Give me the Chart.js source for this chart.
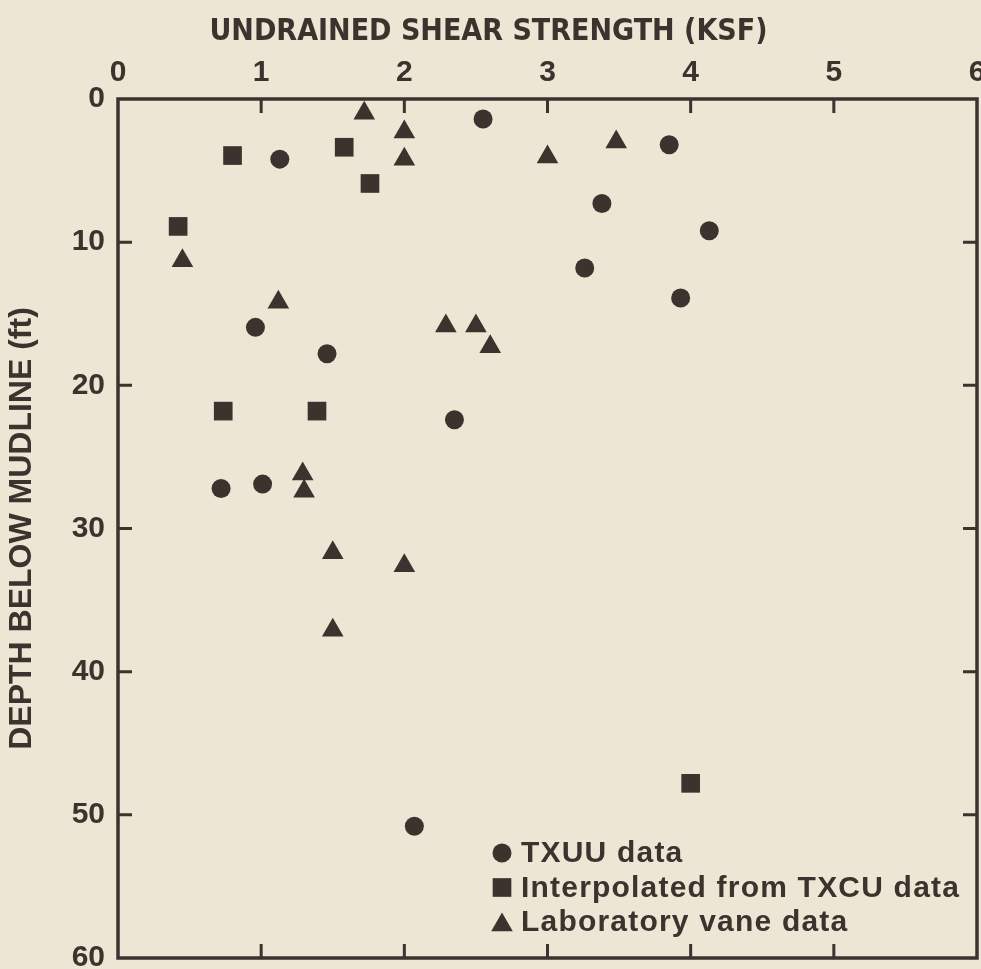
<!DOCTYPE html>
<html>
<head>
<meta charset="utf-8">
<title>Undrained shear strength vs depth</title>
<script src="https://cdn.jsdelivr.net/npm/chart.js"></script>
<style>
  html, body { margin: 0; padding: 0; background: #ece7d5; }
  canvas { display: block; }
</style>
</head>
<body>
<canvas id="strength-chart" width="981" height="969"></canvas>
<script>
// TXUU data: strength (ksf) and depth below mudline (ft)
var txuuStrength = [2.55, 1.13, 3.85, 3.38, 4.13, 3.26, 3.93, 0.96, 1.46, 2.35, 1.01, 0.72, 2.07];
var txuuDepth    = [1.4,  4.2,  3.2,  7.3,  9.2,  11.8, 13.9, 15.95, 17.8, 22.4, 26.9, 27.2, 50.8];

// interpolated from TXCU data
var txcuStrength = [0.80, 1.58, 1.76, 0.42, 0.735, 1.39, 4.0];
var txcuDepth    = [3.95, 3.37, 5.9,  8.9,  21.8,  21.8, 47.8];

// laboratory vane data
var vaneStrength = [1.72, 2.0, 2.0, 3.0,  3.48, 0.45, 1.12, 2.29,  2.50,  2.60, 1.29, 1.30, 1.50, 2.00, 1.50];
var vaneDepth    = [1.0,  2.3, 4.2, 4.05, 3.0,  11.3, 14.2, 15.85, 15.85, 17.3, 26.2, 27.4, 31.7, 32.6, 37.1];

var xTicks = [0, 1, 2, 3, 4, 5, 6];
var yTicks = [0, 10, 20, 30, 40, 50, 60];

var seriesNames = ['TXUU data', 'Interpolated from TXCU data', 'Laboratory vane data'];

var ink = '#3a332e';
var paper = '#ece7d5';
var fontFamily = '"Liberation Sans", Arial, sans-serif';

function toPoints(xs, ys) {
    return xs.map(function(x, i) { return { x: x, y: ys[i] }; });
}

var pageBackground = {
    id: 'pageBackground',
    beforeDraw: function(chart) {
        var ctx = chart.ctx;
        ctx.save();
        ctx.fillStyle = paper;
        ctx.fillRect(0, 0, chart.width, chart.height);
        ctx.restore();
    }
};

// box round the plot with ticks pointing inwards on all four sides
var frame = {
    id: 'frame',
    beforeDatasetsDraw: function(chart) {
        var ctx = chart.ctx;
        var a = chart.chartArea;
        var xs = chart.scales.x, ys = chart.scales.y;
        var len = 14;
        ctx.save();
        ctx.strokeStyle = ink;
        ctx.lineWidth = 3.5;
        ctx.strokeRect(a.left, a.top, a.right - a.left, a.bottom - a.top);
        ctx.lineWidth = 3;
        ctx.beginPath();
        xTicks.slice(1, -1).forEach(function(v) {
            var px = xs.getPixelForValue(v);
            ctx.moveTo(px, a.top); ctx.lineTo(px, a.top + len);
            ctx.moveTo(px, a.bottom); ctx.lineTo(px, a.bottom - len);
        });
        yTicks.slice(1, -1).forEach(function(v) {
            var py = ys.getPixelForValue(v);
            ctx.moveTo(a.left, py); ctx.lineTo(a.left + len, py);
            ctx.moveTo(a.right, py); ctx.lineTo(a.right - len, py);
        });
        ctx.stroke();
        ctx.restore();
    }
};

// legend sits inside the plot, lower right
var boxLegend = {
    id: 'boxLegend',
    afterDraw: function(chart) {
        var ctx = chart.ctx;
        var x0 = 502, y0 = 853, step = 34.5;
        ctx.save();
        ctx.font = 'bold 30px ' + fontFamily;
        ctx.letterSpacing = '1.2px';
        ctx.textBaseline = 'middle';
        ctx.textAlign = 'left';
        chart.data.datasets.forEach(function(ds, i) {
            var y = y0 + i * step;
            ctx.fillStyle = ink;
            Chart.helpers.drawPoint(ctx, {
                pointStyle: ds.pointStyle,
                radius: ds.pointRadius,
                rotation: 0,
                borderWidth: 0
            }, x0, y + (ds.pointStyle === 'triangle' ? 3 : 0));
            ctx.fillText(ds.label, 521, y + 1);
        });
        ctx.restore();
    }
};

var tickFont = { family: fontFamily, size: 30, weight: 'bold' };

new Chart(document.getElementById('strength-chart'), {
    type: 'scatter',
    data: {
        datasets: [{
            label: seriesNames[0],
            data: toPoints(txuuStrength, txuuDepth),
            pointStyle: 'circle',
            pointRadius: 9.5,
            backgroundColor: ink,
            borderColor: ink,
            borderWidth: 0
        }, {
            label: seriesNames[1],
            data: toPoints(txcuStrength, txcuDepth),
            pointStyle: 'rect',
            pointRadius: 13.2,
            backgroundColor: ink,
            borderColor: ink,
            borderWidth: 0
        }, {
            label: seriesNames[2],
            data: toPoints(vaneStrength, vaneDepth),
            pointStyle: 'triangle',
            pointRadius: 12.5,
            backgroundColor: ink,
            borderColor: ink,
            borderWidth: 0
        }]
    },
    options: {
        responsive: false,
        animation: false,
        layout: { autoPadding: false, padding: { left: 0, top: 0, right: 4, bottom: 11 } },
        plugins: {
            legend: { display: false },
            tooltip: { enabled: false },
            title: {
                display: true,
                text: 'UNDRAINED SHEAR STRENGTH (KSF)',
                color: ink,
                font: { family: '"DejaVu Sans Condensed", "Liberation Sans Narrow", sans-serif', size: 30, weight: 'bold', lineHeight: 1.2 },
                padding: { top: 14, bottom: 0 }
            }
        },
        scales: {
            x: {
                type: 'linear',
                position: 'top',
                min: 0,
                max: 6,
                afterBuildTicks: function(s) { s.ticks = xTicks.map(function(v) { return { value: v }; }); },
                afterFit: function(s) { s.height = 49; s.paddingLeft = 0; s.paddingRight = 0; },
                grid: { display: false, drawTicks: false },
                border: { display: false },
                ticks: { color: ink, font: tickFont, padding: 8, maxRotation: 0 }
            },
            y: {
                type: 'linear',
                position: 'left',
                reverse: true,
                min: 0,
                max: 60,
                afterBuildTicks: function(s) { s.ticks = yTicks.map(function(v) { return { value: v }; }); },
                afterFit: function(s) { s.width = 118; s.paddingTop = 0; s.paddingBottom = 0; },
                grid: { display: false, drawTicks: false },
                border: { display: false },
                ticks: { color: ink, font: tickFont, padding: 13 },
                title: {
                    display: true,
                    text: 'DEPTH BELOW MUDLINE (ft)',
                    color: ink,
                    font: { family: fontFamily, size: 32, weight: 'bold', lineHeight: 1.2 },
                    padding: { top: 3, bottom: 0 }
                }
            }
        }
    },
    plugins: [pageBackground, frame, boxLegend]
});
</script>
</body>
</html>
